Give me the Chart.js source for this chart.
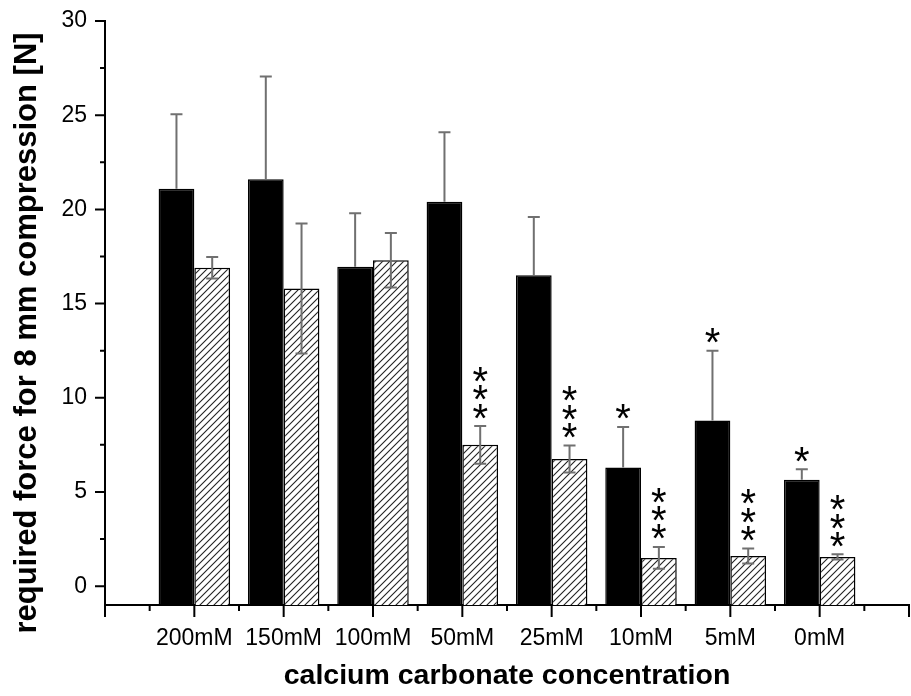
<!DOCTYPE html>
<html>
<head>
<meta charset="utf-8">
<script src="https://cdn.jsdelivr.net/npm/chart.js@4.4.0/dist/chart.umd.min.js"></script>
<style>
  html, body { margin: 0; padding: 0; background: #fff; }
  #wrap { width: 911px; height: 696px; }
</style>
</head>
<body>
<div id="wrap"><canvas id="forceChart"></canvas></div>
<script>
const FONT = "'Liberation Sans', Arial, sans-serif";

// values
const concentrations = ["200mM", "150mM", "100mM", "50mM", "25mM", "10mM", "5mM", "0mM"];
const blackValues = [21.1, 21.6, 16.95, 20.4, 16.5, 6.3, 8.8, 5.65];
const blackErrors = [3.95, 5.45, 2.85, 3.7, 3.1, 2.15, 3.7, 0.55];
const hatchValues = [16.9, 15.8, 17.3, 7.5, 6.75, 1.5, 1.6, 1.55];
const hatchErrors = [0.57, 3.45, 1.45, 1.0, 0.72, 0.58, 0.4, 0.14];
const blackStars = ["", "", "", "", "", "*", "*", "*"];
const hatchStars = ["", "", "", "***", "***", "***", "***", "***"];
const yTitle = "required force for 8 mm compression [N]";

const positions = concentrations.map((_, i) => i + 1);

function hatchPattern() {
  const s = 7;
  const c = document.createElement("canvas");
  c.width = s; c.height = s;
  const g = c.getContext("2d");
  g.fillStyle = "#fff";
  g.fillRect(0, 0, s, s);
  g.strokeStyle = "#222";
  g.lineWidth = 1.1;
  g.beginPath();
  g.moveTo(0, s); g.lineTo(s, 0);
  g.moveTo(-1, 1); g.lineTo(1, -1);
  g.moveTo(s - 1, s + 1); g.lineTo(s + 1, s - 1);
  g.stroke();
  return g.createPattern(c, "repeat");
}

// minor + major tick marks drawn outward, plus the y title
const axisTicks = {
  id: "axisTicks",
  afterDraw(chart) {
    const { ctx, chartArea, scales: { x, y } } = chart;
    ctx.save();
    ctx.strokeStyle = "#000";
    ctx.lineWidth = 2;
    ctx.beginPath();
    for (let v = x.min; v <= x.max; v += 0.5) {
      const px = x.getPixelForValue(v);
      const len = v % 1 === 0 ? 12 : 6;
      ctx.moveTo(px, chartArea.bottom);
      ctx.lineTo(px, chartArea.bottom + len);
    }
    for (let v = 0; v <= y.max; v += 2.5) {
      const py = y.getPixelForValue(v);
      const len = v % 5 === 0 ? 10 : 5;
      ctx.moveTo(chartArea.left, py);
      ctx.lineTo(chartArea.left - len, py);
    }
    ctx.stroke();

    ctx.translate(36, 333);
    ctx.rotate(-Math.PI / 2);
    ctx.fillStyle = "#000";
    ctx.font = "bold 31px " + FONT;
    ctx.textAlign = "center";
    ctx.textBaseline = "alphabetic";
    ctx.fillText(yTitle, 0, 0);
    ctx.restore();
  }
};

// error bars and significance stars
const errorBars = {
  id: "errorBars",
  afterDatasetsDraw(chart) {
    const { ctx, scales: { y } } = chart;
    ctx.save();
    chart.data.datasets.forEach((ds, di) => {
      const meta = chart.getDatasetMeta(di);
      meta.data.forEach((bar, i) => {
        const v = ds.data[i].y;
        const e = ds.errors[i];
        const top = y.getPixelForValue(v + e);
        const bot = y.getPixelForValue(ds.lowerError ? v - e : v);
        ctx.strokeStyle = "#707070";
        ctx.lineWidth = 2;
        ctx.beginPath();
        ctx.moveTo(bar.x, bot); ctx.lineTo(bar.x, top);
        ctx.moveTo(bar.x - 6, top); ctx.lineTo(bar.x + 6, top);
        if (ds.lowerError) { ctx.moveTo(bar.x - 6, bot); ctx.lineTo(bar.x + 6, bot); }
        ctx.stroke();

        const stars = ds.stars[i];
        if (stars) {
          ctx.fillStyle = "#000";
          ctx.font = "40px " + FONT;
          ctx.textAlign = "center";
          ctx.textBaseline = "alphabetic";
          const m = ctx.measureText("*");
          const off = (m.actualBoundingBoxAscent - m.actualBoundingBoxDescent) / 2;
          for (let k = 0; k < stars.length; k++) {
            const cy = top - 15 - k * 18.3;
            ctx.fillText("*", bar.x, cy + off);
          }
        }
      });
    });
    ctx.restore();
  }
};

new Chart(document.getElementById("forceChart"), {
  type: "bar",
  data: {
    datasets: [
      {
        label: "solid",
        data: positions.map((x, i) => ({ x, y: blackValues[i] })),
        backgroundColor: "#000",
        borderColor: "#000",
        borderWidth: 1.5,
        base: -1,
        errors: blackErrors,
        stars: blackStars,
        lowerError: false
      },
      {
        label: "hatched",
        data: positions.map((x, i) => ({ x, y: hatchValues[i] })),
        backgroundColor: hatchPattern(),
        borderColor: "#000",
        borderWidth: 1.5,
        base: -1,
        errors: hatchErrors,
        stars: hatchStars,
        lowerError: true
      }
    ]
  },
  options: {
    responsive: true, maintainAspectRatio: false,
    animation: false,
    layout: { padding: { top: 21, right: 2, left: 0, bottom: 0 } },
    categoryPercentage: 0.8,
    barPercentage: 1.0,
    plugins: { legend: { display: false }, tooltip: { enabled: false } },
    scales: {
      x: {
        type: "linear", min: 0, max: 9, offset: false,
        grid: { display: false, drawTicks: false },
        border: { display: true, color: "#000", width: 2 },
        ticks: {
          stepSize: 1, autoSkip: false, maxRotation: 0, padding: 20,
          color: "#000", font: { family: FONT, size: 23 },
          callback: v => concentrations[v - 1] || ""
        },
        title: {
          display: true, text: "calcium carbonate concentration", color: "#000",
          font: { family: FONT, size: 28.5, weight: "bold" }, padding: { top: 0, bottom: 3 }
        },
        afterFit: s => { s.height = 91; s.paddingLeft = 0; s.paddingRight = 0; }
      },
      y: {
        min: -1, max: 30,
        grid: { display: false, drawTicks: false },
        border: { display: true, color: "#000", width: 2 },
        ticks: {
          stepSize: 5, includeBounds: false, padding: 18, color: "#000",
          font: { family: FONT, size: 23 },
          callback: v => String(v)
        },
        afterFit: s => { s.width = 105; s.paddingTop = 0; s.paddingBottom = 0; }
      }
    }
  },
  plugins: [axisTicks, errorBars]
});
</script>
</body>
</html>
